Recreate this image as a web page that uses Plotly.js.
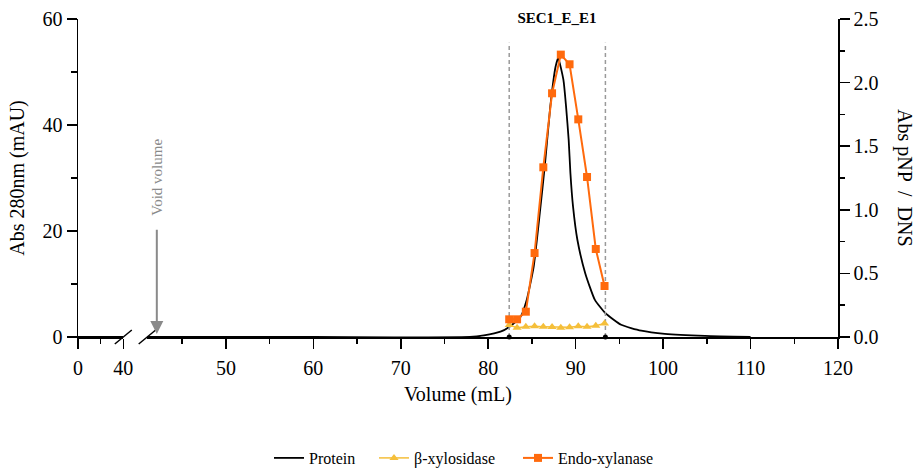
<!DOCTYPE html>
<html>
<head>
<meta charset="utf-8">
<script src="https://cdn.plot.ly/plotly-3.0.1.min.js"></script>
<style>html,body{margin:0;padding:0;background:#fff;}#chart{width:921px;height:468px;}</style>
</head>
<body>
<div id="chart"></div>
<script>
// ---- data ----
const chartTitle = "SEC1_E_E1";
const xTitle = "Volume (mL)";
const yTitle = "Abs 280nm (mAU)";
const y2Title = "Abs pNP  /  DNS";
const voidLabel = "Void volume";
// Protein (Abs 280 nm, mAU) — first axis segment (0–40 mL)
const proteinVolA = [0, 40];
const proteinAbsA = [0, 0];
// Protein — second axis segment
const proteinVolB = [41, 60, 77.9, 79.5, 81.4, 82.4, 83.7, 84.4, 85.2, 85.9, 86.5, 87.1, 87.7, 88.0, 88.6, 88.9, 89.2, 89.4, 89.7, 90.2, 91.1, 92.2, 93.4, 95.2, 97.5, 100.2, 104.8, 110];
const proteinAbsB = [0, 0, 0, 0.3, 1.0, 1.9, 3.8, 7.0, 13.3, 23.4, 32.8, 43.5, 51.0, 52.6, 48.5, 43.5, 37.2, 30.9, 24.6, 18.3, 12.0, 7.0, 4.5, 2.3, 1.2, 0.6, 0.2, 0];
// Fractions (mL) assayed for activity
const fractionVol = [82.4, 83.3, 84.3, 85.3, 86.3, 87.3, 88.3, 89.3, 90.3, 91.3, 92.3, 93.3];
const betaXylosidase = [0.094, 0.073, 0.081, 0.084, 0.081, 0.079, 0.073, 0.076, 0.084, 0.081, 0.089, 0.107];
const endoXylanase = [0.139, 0.139, 0.199, 0.66, 1.334, 1.916, 2.22, 2.144, 1.711, 1.258, 0.692, 0.401];
// Pooled fraction boundaries (mL) and dashed-line top (mAU)
const poolBounds = [82.4, 93.4];
const poolLineTop = 55.5;
// Void volume marker
const voidVolume = 42.1;
const voidArrowTop = 20.5;
const voidLabelY = 30.2;
const segA = [0, 40];
const segB = [41, 120];
const xTicksA = [0, 40], xMinorA = [20];
const xTicksB = [50, 60, 70, 80, 90, 100, 110, 120], xMinorB = [45, 55, 65, 75, 85, 95, 105, 115];
const yTicks = [0, 20, 40, 60];
const y2Ticks = [0, 0.5, 1, 1.5, 2, 2.5];

// ---- layout constants ----
const W = 921, H = 468, ML = 78, MR = 83, MT = 19, MB = 131;
const pw = W - ML - MR, ph = H - MT - MB;
const domA = [0, (123.3 - ML) / pw];
const domB = [(147.2 - ML) / pw, 1];
const FONT = "'Liberation Serif', 'Times New Roman', serif";
const ORANGE = "#FF6A0D", YELLOW = "#F5BF3A", GREY = "#9a9a9a";

const traces = [
  {x: proteinVolA, y: proteinAbsA, xaxis: "x", yaxis: "y", mode: "lines",
   line: {color: "#000", width: 1.8}, showlegend: false, hoverinfo: "skip", cliponaxis: false},
  {x: proteinVolB, y: proteinAbsB, xaxis: "x2", yaxis: "y", mode: "lines", name: "Protein", legend: "legend",
   line: {color: "#000", width: 1.8, shape: "spline", smoothing: 0.5}, cliponaxis: false},
  {x: [poolBounds[0], poolBounds[0]], y: [0, poolLineTop], xaxis: "x2", yaxis: "y", mode: "lines",
   line: {color: GREY, width: 1.5, dash: "4px,3px"}, showlegend: false, hoverinfo: "skip"},
  {x: [poolBounds[1], poolBounds[1]], y: [0, poolLineTop], xaxis: "x2", yaxis: "y", mode: "lines",
   line: {color: GREY, width: 1.5, dash: "4px,3px"}, showlegend: false, hoverinfo: "skip"},
  {x: poolBounds, y: [0, 0], xaxis: "x2", yaxis: "y", mode: "markers",
   marker: {color: "#000", size: 5}, showlegend: false, hoverinfo: "skip", cliponaxis: false},
  {x: fractionVol, y: betaXylosidase, xaxis: "x2", yaxis: "y2", mode: "lines+markers", name: "β-xylosidase", legend: "legend2",
   line: {color: YELLOW, width: 1.5}, marker: {symbol: "triangle-up", size: 8, color: YELLOW}, cliponaxis: false},
  {x: fractionVol, y: endoXylanase, xaxis: "x2", yaxis: "y2", mode: "lines+markers", name: "Endo-xylanase", legend: "legend3",
   line: {color: ORANGE, width: 2}, marker: {symbol: "square", size: 8, color: ORANGE}, cliponaxis: false}
];

const axCommon = {
  showline: true, linecolor: "#000", linewidth: 1.5, ticks: "outside", ticklen: 10, tickwidth: 1.5,
  tickcolor: "#000", showgrid: false, zeroline: false, tickfont: {family: FONT, size: 20, color: "#000"},
  fixedrange: true
};

const slash = (xp) => ({
  type: "line", xref: "paper", yref: "paper", xsizemode: "pixel", ysizemode: "pixel",
  xanchor: xp, yanchor: 0, x0: -8.5, x1: 8.5, y0: -7, y1: 7,
  line: {color: "#000", width: 1.5}
});

const legendAt = (xpx) => ({
  orientation: "h", xref: "container", yref: "container", x: xpx / W, xanchor: "left",
  y: 1 - 458 / H, yanchor: "middle", font: {family: FONT, size: 16, color: "#000"},
  itemwidth: 30, bgcolor: "rgba(0,0,0,0)", borderwidth: 0
});

const layout = {
  width: W, height: H,
  margin: {l: ML, r: MR, t: MT, b: MB},
  paper_bgcolor: "#fff", plot_bgcolor: "rgba(0,0,0,0)",
  font: {family: FONT, color: "#000"},
  title: {text: "<b>" + chartTitle + "</b>", font: {family: FONT, size: 15, color: "#000"},
          xref: "container", x: 557 / W, xanchor: "center", yref: "container", y: 1 - 18 / H, yanchor: "middle"},
  xaxis: Object.assign({}, axCommon, {domain: domA, range: segA, anchor: "y", tickvals: xTicksA, ticklabelstandoff: 2,
          minor: {tickvals: xMinorA, ticks: "outside", ticklen: 5, tickwidth: 1.5, tickcolor: "#000"}}),
  xaxis2: Object.assign({}, axCommon, {domain: domB, range: segB, anchor: "y", tickvals: xTicksB, ticklabelstandoff: 2,
          minor: {tickvals: xMinorB, ticks: "outside", ticklen: 5, tickwidth: 1.5, tickcolor: "#000"}}),
  yaxis: Object.assign({}, axCommon, {range: [0, 60], anchor: "x", tickvals: yTicks,
          minor: {dtick: 10, ticks: "outside", ticklen: 6, tickwidth: 1.5, tickcolor: "#000"},
          title: {text: yTitle, font: {family: FONT, size: 20, color: "#000"}, standoff: 12}}),
  yaxis2: Object.assign({}, axCommon, {range: [0, 2.5], anchor: "x2", overlaying: "y", side: "right",
          tickvals: y2Ticks, tickformat: ".1f",
          minor: {dtick: 0.25, ticks: "outside", ticklen: 5, tickwidth: 1.5, tickcolor: "#000"}}),
  shapes: [slash(domA[1]), slash(domB[0])],
  annotations: [
    {xref: "x2", yref: "y", x: voidVolume, y: 0, ax: voidVolume, ay: voidArrowTop, axref: "x2", ayref: "y",
     text: "", showarrow: true, arrowhead: 2, arrowsize: 1.3, arrowwidth: 2, arrowcolor: "#8a8a8a", standoff: 3},
    {xref: "x2", yref: "y", x: voidVolume, y: voidLabelY, text: voidLabel, textangle: -90, showarrow: false,
     font: {family: FONT, size: 15, color: "#8a8a8a"}},
    {xref: "paper", yref: "paper", x: 1, xshift: 67, y: 0.5, text: y2Title, textangle: 90, showarrow: false,
     xanchor: "center", yanchor: "middle", font: {family: FONT, size: 20, color: "#000"}},
    {xref: "paper", yref: "paper", x: 0.5, y: 0, yshift: -57, text: xTitle, showarrow: false,
     xanchor: "center", yanchor: "middle", font: {family: FONT, size: 20, color: "#000"}}
  ],
  legend: legendAt(269),
  legend2: legendAt(374),
  legend3: legendAt(518),
  showlegend: true
};

Plotly.newPlot("chart", traces, layout, {displayModeBar: false, staticPlot: true});
</script>
</body>
</html>
